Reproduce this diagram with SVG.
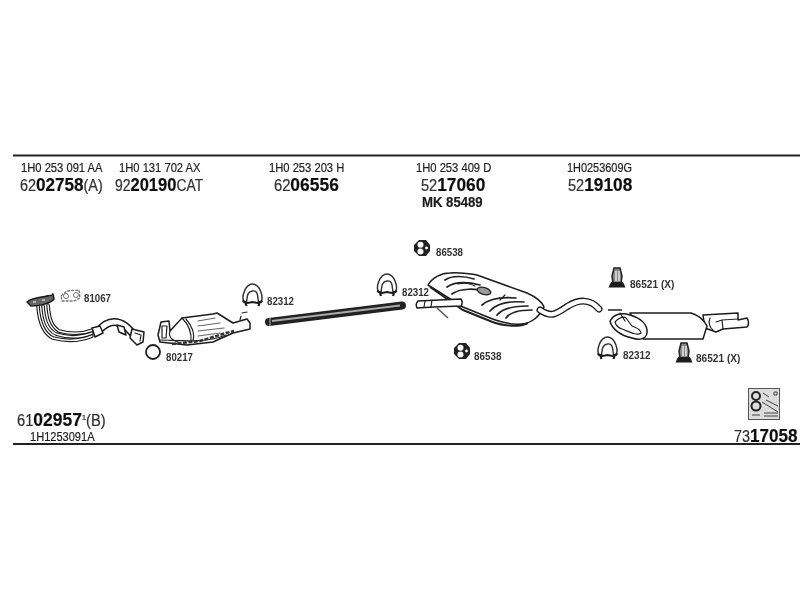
<svg xmlns="http://www.w3.org/2000/svg" width="800" height="600" viewBox="0 0 800 600">
<style>
text{font-family:"Liberation Sans",Arial,sans-serif;fill:#1c1c1c;stroke:#1c1c1c;stroke-width:.2}
.n{font-size:13.500px}
.s{font-size:11px;font-weight:bold;fill:#333;stroke:none}
.b{font-size:19px;font-weight:bold;fill:#111}
.m{font-size:16px;fill:#333}
.o{fill:#fff;stroke:#1c1c1c;stroke-width:1.500;stroke-linejoin:round}
.t{fill:none;stroke:#222;stroke-width:1.200;stroke-linecap:round;stroke-linejoin:round}
.g{fill:none;stroke:#666;stroke-width:1.200;stroke-linecap:round}
.k{fill:none;stroke:#1a1a1a;stroke-linecap:round;stroke-linejoin:round}
.w{fill:none;stroke:#fff;stroke-linecap:round;stroke-linejoin:round}
</style>
<defs>
<filter id="soft" x="-5%" y="-5%" width="110%" height="110%"><feGaussianBlur stdDeviation="0.35"/></filter>
<g id="clamp">
<path d="M-8 8C-12 2-7-11 0-11S12 2 8 8" fill="none" stroke="#333" stroke-width="1.500"/>
<path d="M-6 7C-5 2-6-3 0-4S5 2 6 7" fill="none" stroke="#333" stroke-width="1.400"/>
<path d="M-10 6L-5 8L0 7L5 8L10 6" stroke="#1a1a1a" stroke-width="2" fill="none"/>
<path d="M-7 8L-6 11M7 8L6 11" stroke="#1a1a1a" stroke-width="2.200" fill="none"/>
</g>
<g id="rubber">
<path d="M-3-8L4-8L8-3L8 3L4 8L-3 8L-8 3L-8-3Z" fill="#222"/>
<circle cx="-1.500" cy="-3.200" r="3" fill="#fff"/><circle cx="-1.500" cy="3.500" r="3" fill="#fff"/>
<circle cx="4.500" cy="0" r="1.400" fill="#fff"/>
</g>
<g id="hanger">
<path d="M-3-10L3-10L5-2L4 5L-4 5L-5-2Z" fill="#888" stroke="#222" stroke-width="1.500"/>
<path d="M-1-7L-1 3M2-7L2 3" stroke="#fff" stroke-width="1.200"/>
<path d="M-8.500 9.500L-6 4L6 4L8.500 9.500Z" fill="#1a1a1a"/>
</g>
</defs>
<rect width="800" height="600" fill="#fff"/>
<g filter="url(#soft)">
<g id="rules" stroke="#222" stroke-width="2"><path d="M13 155.500H800M13 444H800"/></g>

<g id="manifold">
<path d="M38 306C39 320 42 333 53 338C68 342 80 341 92 336" class="k" stroke-width="3.600"/>
<path d="M38 306C39 320 42 333 53 338C68 342 80 341 92 336" class="w" stroke-width="1.400"/>
<path d="M43 306C44 318 46 329 56 334C68 338 80 338 92 333" class="k" stroke-width="3.600"/>
<path d="M43 306C44 318 46 329 56 334C68 338 80 338 92 333" class="w" stroke-width="1.400"/>
<path d="M48 305C49 316 50 325 59 331C70 334 80 335 93 330" class="k" stroke-width="3.600"/>
<path d="M48 305C49 316 50 325 59 331C70 334 80 335 93 330" class="w" stroke-width="1.400"/>
<path d="M98 331C104 325 108 322 114 322C123 322 128 328 134 335" class="k" stroke-width="8"/>
<path d="M98 331C104 325 108 322 114 322C123 322 128 328 134 335" class="w" stroke-width="5"/>
<path class="o" d="M92 328L100 326L103 333L95 337Z"/>
<path class="o" d="M117 325L124 327L126 335L119 332Z" fill="#bbb"/>
<path d="M27 302C33 296 46 298 53 294L54 299C50 304 38 306 31 306Z" fill="#666" stroke="#1a1a1a" stroke-width="1.500" stroke-linejoin="round"/>
<path d="M33 302h3M42 300h3M34 296L52 294" stroke="#fff"/>
<path class="o" d="M132 329L144 332L143 342L137 345L130 338Z" stroke-width="2"/>
<path class="t" d="M135 333L141 335L140 341"/>
</g>
<g id="gasket-81067"><path d="M61 296L67 291L79 290L80 298L74 301L62 301Z" fill="none" stroke="#777" stroke-width="1.300" stroke-dasharray="3 1"/><circle cx="66" cy="296" r="2.500" fill="none" stroke="#777"/><circle cx="76" cy="295" r="2.500" fill="none" stroke="#777"/></g>
<g id="catalyst">
<path class="o" d="M161 322L169 321L170 331L182 318L213 314L217 313L233 323L247 319L250 323L250 329L233 333L213 342L187 345L160 342L158 335Z"/>
<path class="t" d="M182 318C188 324 192 332 191 342M186 319C192 326 195 334 193 341M170 331C168 336 172 341 178 342M162 326L167 326L166 338L162 338ZM160 340C175 340 205 344 226 335"/>
<path d="M172 344L200 341L226 333L234 331" fill="none" stroke="#333" stroke-width="2.500" stroke-dasharray="4 1.500"/>
<path class="g" d="M198 321L215 318M198 326L220 323M198 331L224 328M198 336L220 333"/>
<path class="t" d="M242 313L247 312M241 316L240 320"/>
</g>
<g id="ring-80217"><circle cx="153" cy="352" r="7" fill="none" stroke="#222" stroke-width="1.800"/></g>
<use id="clamp-1" href="#clamp" x="252.500" y="295"/>
<g id="pipe">
<path d="M269 322L402 305.500" stroke="#222" stroke-width="8" stroke-linecap="round"/>
<path d="M272 321L400 305.500" stroke="#aaa" stroke-width="2"/>
<path d="M270 318V326" stroke="#888" stroke-width="1.500"/>
</g>
<use id="clamp-2" href="#clamp" x="387" y="285"/>
<use id="rubber-1" href="#rubber" x="422" y="248"/>
<g id="silencer">
<path class="o" d="M463 307L428 285C432 278 441 273 450 273C462 272 470 274 477 275L527 293C536 297 542 302 544 307C540 316 532 323 522 324C510 325 500 322 490 318Z"/>
<path d="M430 287L463 310L490 321C505 327 520 327 528 323" fill="none" stroke="#222" stroke-width="2"/>
<path d="M445 280C452 275 465 276 474 279M447 287C456 281 468 282 480 285M452 294C460 288 476 288 490 292M482 305C490 298 505 297 516 298M490 311C497 303 510 301 524 302M497 315C503 308 515 306 528 306M506 318C510 312 520 310 532 310" fill="none" stroke="#222" stroke-width="1.700" stroke-linecap="round"/>
<ellipse cx="484" cy="291" rx="7" ry="3.500" fill="#999" stroke="#222" stroke-width="1.300" transform="rotate(15 484 291)"/>
<path class="t" d="M458 284C465 282 470 284 475 286M500 300L505 295"/>
<path class="o" d="M418 301L461 299C463 302 462 305 461 306L434 307L417 308C416 306 416 303 418 301Z"/>
<path class="t" d="M425 301L424 307M432 300L431 307"/>
<path d="M437 308L448 318" stroke="#555" stroke-width="1.500" fill="none"/>
</g>
<use id="rubber-2" href="#rubber" x="462" y="351"/>
<g id="tailpipe">
<path d="M540 310C552 318 556 314 568 306C578 300 590 298 599 309" class="k" stroke-width="7"/>
<path d="M540 310C552 318 556 314 568 306C578 300 590 298 599 309" class="w" stroke-width="4.400"/>
</g>
<g id="rear-muffler">
<path class="o" d="M703 315L738 313L738 320L747 318C749 321 749 325 747 327L723 329L716 332L705 328Z"/>
<path class="t" d="M722 320L738 319M716 322L722 320L723 329M710 318C708 323 710 328 713 330"/>
<path class="o" d="M630 313H691C698 315 704 320 707 326L703 339H643Z"/>
<path class="o" d="M610 321C614 314 622 312 630 315C640 318 648 324 647 333C646 340 638 340 632 338C622 336 612 330 610 321Z"/>
<path class="t" d="M615 322C620 317 623 316 626 318L632 326C636 328 640 328 641 333C637 336 630 332 622 329C619 328 616 326 615 322ZM620 313L625 321"/>
<path d="M608 310L622 310" stroke="#444" stroke-width="1.800"/>
</g>
<use id="clamp-3" href="#clamp" x="607.500" y="348"/>
<use id="hanger-1" href="#hanger" x="617" y="278"/>
<use id="hanger-2" href="#hanger" x="684" y="353"/>
<g id="kit-icon">
<rect x="748.500" y="388.500" width="31" height="31" fill="#ddd" stroke="#555"/>
<circle cx="756" cy="396" r="4" fill="none" stroke="#222" stroke-width="2"/>
<circle cx="756" cy="406" r="4.500" fill="none" stroke="#222" stroke-width="2"/>
<path d="M763 393L769 397M774 392h3v3h-3zM762 402L778 412M766 400L778 406M752 415H760M764 413H778M764 416H778" stroke="#444" fill="none"/>
</g>

<g id="labels">
<text class="n" transform="translate(21 172) scale(.83 1)">1H0 253 091 AA</text>
<text class="n" transform="translate(119 172) scale(.83 1)">1H0 131 702 AX</text>
<text class="n" transform="translate(269 172) scale(.83 1)">1H0 253 203 H</text>
<text class="n" transform="translate(416 172) scale(.83 1)">1H0 253 409 D</text>
<text class="n" transform="translate(567 172) scale(.81 1)">1H0253609G</text>
<text transform="translate(20 191) scale(.9 1)"><tspan class="m">62</tspan><tspan class="b">02758</tspan><tspan class="m">(A)</tspan></text>
<text transform="translate(115 191) scale(.87 1)"><tspan class="m">92</tspan><tspan class="b">20190</tspan><tspan class="m">CAT</tspan></text>
<text transform="translate(274 191) scale(.92 1)"><tspan class="m">62</tspan><tspan class="b">06556</tspan></text>
<text transform="translate(421 191) scale(.91 1)"><tspan class="m">52</tspan><tspan class="b">17060</tspan></text>
<text transform="translate(568 191) scale(.91 1)"><tspan class="m">52</tspan><tspan class="b">19108</tspan></text>
<text transform="translate(422 207) scale(.94 1)" font-size="14" font-weight="bold">MK 85489</text>
<text class="s" transform="translate(84 302) scale(.88 1)">81067</text>
<text class="s" transform="translate(166 361) scale(.88 1)">80217</text>
<text class="s" transform="translate(267 305) scale(.88 1)">82312</text>
<text class="s" transform="translate(402 296) scale(.88 1)">82312</text>
<text class="s" transform="translate(436 256) scale(.88 1)">86538</text>
<text class="s" transform="translate(474 360) scale(.9 1)">86538</text>
<text class="s" transform="translate(630 288) scale(.92 1)">86521 (X)</text>
<text class="s" transform="translate(623 359) scale(.9 1)">82312</text>
<text class="s" transform="translate(696 362) scale(.92 1)">86521 (X)</text>
<text transform="translate(17 426) scale(.92 1)"><tspan class="m">61</tspan><tspan class="b">02957</tspan><tspan font-size="8" dy="-6">1</tspan><tspan class="m" dy="6">(B)</tspan></text>
<text class="n" transform="translate(30 441) scale(.82 1)">1H1253091A</text>
<text transform="translate(734 442) scale(.9 1)"><tspan class="m">73</tspan><tspan class="b">17058</tspan></text>
</g>
</g>
</svg>
